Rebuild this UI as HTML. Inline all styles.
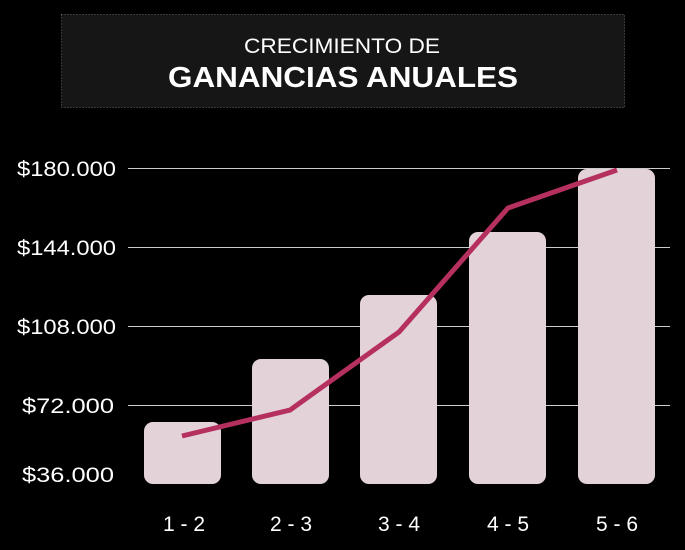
<!DOCTYPE html>
<html><head><meta charset="utf-8"><style>
body{margin:0;background:#000;width:685px;height:545px;overflow:hidden;font-family:"Liberation Sans",sans-serif}
</style></head><body>
<svg width="685" height="545" xmlns="http://www.w3.org/2000/svg">
<rect x="0" y="0" width="685" height="545" fill="#000"/>
<rect x="61.5" y="14.5" width="563" height="93" fill="#161616" stroke="#666" stroke-dasharray="1,2"/>
<text x="244" y="53" fill="#fff" font-size="21" textLength="196" lengthAdjust="spacingAndGlyphs">CRECIMIENTO DE</text>
<text x="168" y="87" fill="#fff" font-size="29" font-weight="bold" textLength="350" lengthAdjust="spacingAndGlyphs">GANANCIAS ANUALES</text>
<g stroke="#ccc" stroke-width="1">
<line x1="128" y1="168.5" x2="670" y2="168.5"/>
<line x1="128" y1="247.5" x2="670" y2="247.5"/>
<line x1="128" y1="326.5" x2="670" y2="326.5"/>
<line x1="128" y1="405.5" x2="670" y2="405.5"/>
</g>
<g fill="#fff" font-size="21">
<text x="17" y="176" textLength="99" lengthAdjust="spacingAndGlyphs">$180.000</text>
<text x="17" y="255" textLength="99" lengthAdjust="spacingAndGlyphs">$144.000</text>
<text x="17" y="334" textLength="99" lengthAdjust="spacingAndGlyphs">$108.000</text>
<text x="22" y="413" textLength="92" lengthAdjust="spacingAndGlyphs">$72.000</text>
<text x="22" y="482" textLength="92" lengthAdjust="spacingAndGlyphs">$36.000</text>
</g>
<g fill="#e3d3d9">
<rect x="144" y="422" width="77" height="62" rx="9"/>
<rect x="252" y="359" width="77" height="125" rx="9"/>
<rect x="360" y="295" width="77" height="189" rx="9"/>
<rect x="469" y="232" width="77" height="252" rx="9"/>
<rect x="578" y="169" width="77" height="315" rx="9"/>
</g>
<polyline points="182,436 290,410 399,332 508,208 617,170" fill="none" stroke="#b5305f" stroke-width="5"/>
<g fill="#fff" font-size="21" text-anchor="middle">
<text x="184" y="531">1 - 2</text>
<text x="291" y="531">2 - 3</text>
<text x="399" y="531">3 - 4</text>
<text x="508" y="531">4 - 5</text>
<text x="617" y="531">5 - 6</text>
</g>
</svg>
</body></html>
